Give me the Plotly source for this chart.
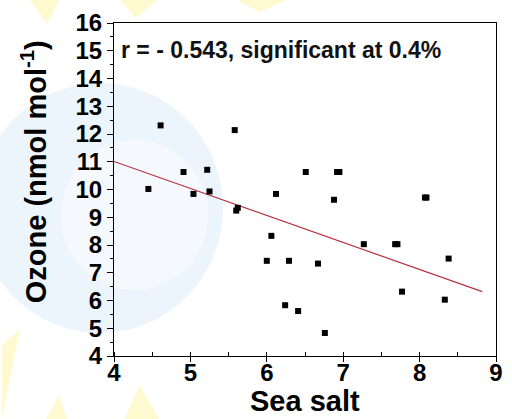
import plotly.graph_objects as go

# Observations: sea salt vs. surface ozone
sea_salt = [4.45, 4.61, 4.91, 5.04, 5.22, 5.25, 5.58, 5.60, 5.62, 6.00,
            6.06, 6.12, 6.24, 6.29, 6.41, 6.51, 6.67, 6.76, 6.88, 6.92,
            6.95, 7.27, 7.68, 7.71, 7.77, 8.07, 8.09, 8.33, 8.38]
ozone = [10.02, 12.31, 10.63, 9.84, 10.71, 9.93, 12.14, 9.24, 9.34, 7.43,
         8.33, 9.84, 5.83, 7.43, 5.62, 10.63, 7.33, 4.83, 9.63, 10.63,
         10.63, 8.03, 8.03, 8.03, 6.32, 9.71, 9.71, 6.03, 7.51]

# Linear regression line end points
fit_x = [4.0, 8.82]
fit_y = [11.01, 6.32]

stats_text = "r = - 0.543, significant at 0.4%"
x_title = "Sea salt"
y_title = "Ozone (nmol mol<sup>-1</sup>)"

FONT = "Liberation Sans, Arial, sans-serif"

# plot-area placement in page pixels
L, R, T, B = 114, 503, 23, 356

fig = go.Figure()

fig.add_trace(go.Scatter(
    x=fit_x, y=fit_y, mode="lines",
    line=dict(color="#b8303f", width=1.2),
    showlegend=False, hoverinfo="skip",
))
fig.add_trace(go.Scatter(
    x=sea_salt, y=ozone, mode="markers",
    marker=dict(symbol="square", size=6, color="black"),
    showlegend=False,
))


def px_path(points):
    """Closed SVG path in paper units from page-pixel points."""
    parts = []
    for i, (px, py) in enumerate(points):
        xp = (px - L) / (R - L)
        yp = (B - py) / (B - T)
        parts.append(f"{'M' if i == 0 else 'L'} {xp:.4f} {yp:.4f}")
    return " ".join(parts) + " Z"


def px_circle(cx, cy, r):
    return dict(x0=(cx - r - L) / (R - L), x1=(cx + r - L) / (R - L),
                y0=(B - cy - r) / (B - T), y1=(B - cy + r) / (B - T))


# faint background emblem
shapes = [
    dict(type="circle", xref="paper", yref="paper", layer="below",
         fillcolor="rgba(215,232,248,0.45)", line=dict(width=0),
         **px_circle(100, 208, 125)),
    dict(type="circle", xref="paper", yref="paper", layer="below",
         fillcolor="rgba(255,255,255,0.45)", line=dict(width=0),
         **px_circle(135, 215, 75)),
]
yellow = "rgba(255,242,150,0.45)"
wedges = [
    [(28, 0), (58, 0), (46, 24)],
    [(120, 0), (158, 0), (136, 18)],
    [(0, 345), (18, 330), (0, 419)],
    [(45, 419), (58, 395), (66, 419)],
    [(125, 419), (140, 385), (160, 419)],
    [(240, 0), (290, 0), (262, 12)],
]
for w in wedges:
    shapes.append(dict(type="path", xref="paper", yref="paper", layer="below",
                       path=px_path(w), fillcolor=yellow, line=dict(width=0)))

axis_common = dict(
    showgrid=False, zeroline=False,
    showline=True, linecolor="black", linewidth=1.2, mirror=True,
    ticks="outside", tickcolor="black", tickwidth=1.2,
    tickfont=dict(family=FONT, size=24, color="black", weight="bold"),
)

fig.update_xaxes(
    range=[4, 9], dtick=1, tick0=4, ticklen=5, ticklabelstandoff=-10,
    minor=dict(dtick=0.5, ticks="inside", ticklen=4, tickcolor="black", tickwidth=1),
    **axis_common,
)
fig.update_yaxes(
    range=[4, 16], dtick=1, tick0=4, ticklen=6,
    minor=dict(dtick=0.5, ticks="outside", ticklen=3, tickcolor="black", tickwidth=1),
    **axis_common,
)

fig.update_layout(
    width=512, height=419,
    margin=dict(l=L, r=512 - R, t=T, b=419 - B),
    paper_bgcolor="white", plot_bgcolor="rgba(0,0,0,0)",
    shapes=shapes,
    annotations=[
        dict(text=stats_text, xref="paper", yref="paper", x=0.013, y=0.918,
             xanchor="left", yanchor="middle", showarrow=False,
             font=dict(family=FONT, size=23, color="#111", weight="bold")),
        dict(text=x_title, xref="paper", yref="paper", x=0.5, y=-0.135,
             xanchor="center", yanchor="middle", showarrow=False,
             font=dict(family=FONT, size=29, color="black", weight="bold")),
        dict(text=y_title, xref="paper", yref="paper", x=-0.211, y=0.553,
             xanchor="center", yanchor="middle", showarrow=False, textangle=-90,
             font=dict(family=FONT, size=29, color="black", weight="bold")),
    ],
)

fig.write_html("out.html")
